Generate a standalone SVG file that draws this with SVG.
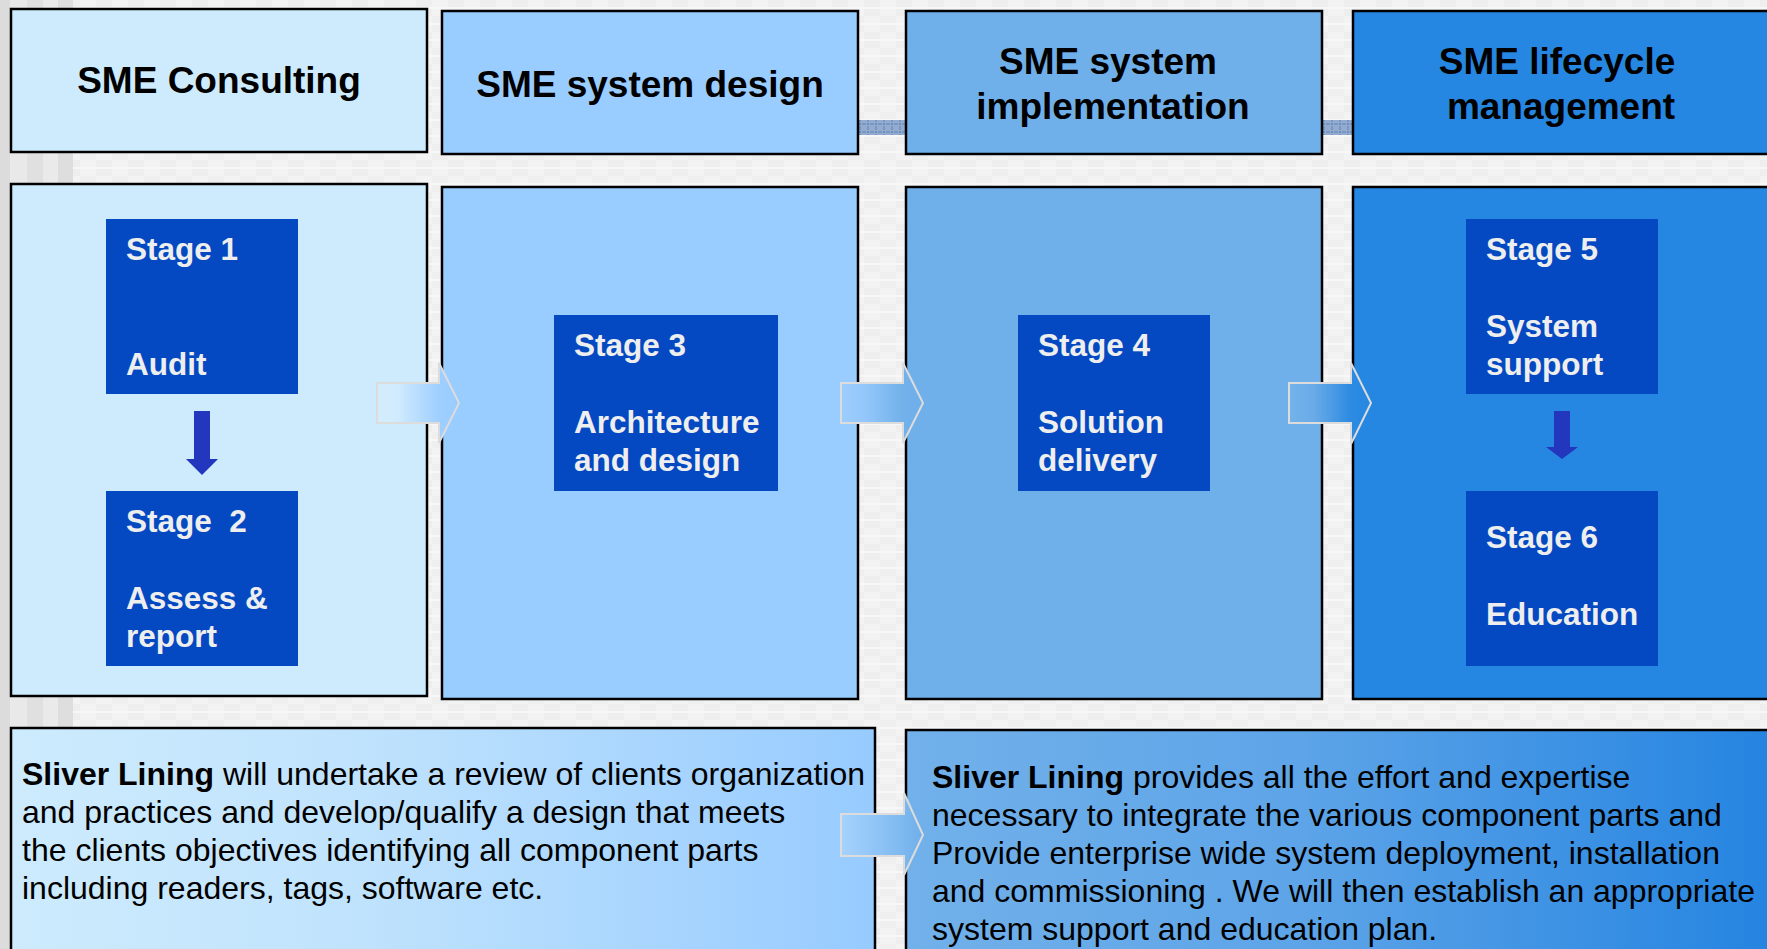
<svg xmlns="http://www.w3.org/2000/svg" width="1767" height="949" viewBox="0 0 1767 949">
<defs>
<pattern id="bg" x="0" y="0" width="32" height="32" patternUnits="userSpaceOnUse">
<rect width="32" height="32" fill="#f3f3f3"/>
<rect x="0" y="0" width="16" height="16" fill="#eeeeee"/>
<rect x="16" y="16" width="16" height="16" fill="#efefef"/>
<line x1="0" y1="8" x2="32" y2="8" stroke="#fafafa" stroke-width="1.5"/>
<line x1="0" y1="24" x2="32" y2="24" stroke="#fafafa" stroke-width="1.5"/>
</pattern>
<pattern id="chk" x="0" y="0" width="8" height="8" patternUnits="userSpaceOnUse">
<rect width="8" height="8" fill="#93abcf"/>
<line x1="0" y1="4" x2="8" y2="4" stroke="#5f83b8" stroke-width="1" stroke-dasharray="2 1"/>
<line x1="4" y1="0" x2="4" y2="8" stroke="#5f83b8" stroke-width="1" stroke-dasharray="2 1"/>
</pattern>
<linearGradient id="gA" gradientUnits="userSpaceOnUse" x1="377" y1="0" x2="459" y2="0">
<stop offset="0" stop-color="#d4edfd"/><stop offset="0.25" stop-color="#d0ebfd"/><stop offset="0.75" stop-color="#9fcfff"/><stop offset="1" stop-color="#99ccff"/>
</linearGradient>
<linearGradient id="gB" gradientUnits="userSpaceOnUse" x1="841" y1="0" x2="923" y2="0">
<stop offset="0" stop-color="#9dcdfe"/><stop offset="0.3" stop-color="#93c7fb"/><stop offset="0.75" stop-color="#72b1ea"/><stop offset="1" stop-color="#6fafea"/>
</linearGradient>
<linearGradient id="gC" gradientUnits="userSpaceOnUse" x1="1289" y1="0" x2="1371" y2="0">
<stop offset="0" stop-color="#74b2ea"/><stop offset="0.3" stop-color="#6aabe8"/><stop offset="0.75" stop-color="#2d8be2"/><stop offset="1" stop-color="#2587e2"/>
</linearGradient>
<linearGradient id="gD" gradientUnits="userSpaceOnUse" x1="841" y1="0" x2="923" y2="0">
<stop offset="0" stop-color="#a6d2fd"/><stop offset="0.5" stop-color="#8cc2f5"/><stop offset="1" stop-color="#6fafea"/>
</linearGradient>
<linearGradient id="gL" x1="0" y1="0" x2="1" y2="0">
<stop offset="0" stop-color="#cdebfd"/><stop offset="0.4" stop-color="#c0e3fd"/><stop offset="1" stop-color="#97cbff"/>
</linearGradient>
<linearGradient id="gR" x1="0" y1="0" x2="1" y2="0">
<stop offset="0" stop-color="#72b1ea"/><stop offset="0.45" stop-color="#5da4e8"/><stop offset="1" stop-color="#2383e0"/>
</linearGradient>
<style>
.box{stroke:#000;stroke-width:2.5}
.stage{fill:#0449c2}
.hd{font-family:"Liberation Sans",Arial,sans-serif;font-weight:bold;font-size:37px;fill:#000;text-anchor:middle}
.st{font-family:"Liberation Sans",Arial,sans-serif;font-weight:bold;font-size:31.5px;fill:#eeeeee}
.bt{font-family:"Liberation Sans",Arial,sans-serif;font-size:32px;fill:#000}
.b{font-weight:bold}
.blk{stroke:#dcdcdc;stroke-width:2}
.dn{fill:#2236be}
</style>
</defs>
<rect width="1767" height="949" fill="url(#bg)"/>
<rect x="0" y="0" width="10" height="949" fill="#dcdcdc"/>
<rect x="10" y="0" width="17" height="949" fill="#e9e9e9"/>
<rect x="27" y="0" width="16" height="949" fill="#e0e0e0"/>
<rect x="43" y="0" width="15" height="949" fill="#eaeaea"/>
<rect x="58" y="0" width="15" height="949" fill="#dedede"/>
<rect x="858" y="120" width="48" height="15" fill="url(#chk)"/>
<rect x="1322" y="120" width="31" height="15" fill="url(#chk)"/>

<g id="header-consulting">
<rect class="box" x="11" y="9" width="416" height="143" fill="#cdebfd"/>
<text class="hd" x="219" y="93">SME Consulting</text>
</g>
<g id="header-design">
<rect class="box" x="442" y="11" width="416" height="143" fill="#99ccff"/>
<text class="hd" x="650" y="97">SME system design</text>
</g>
<g id="header-implementation">
<rect class="box" x="906" y="11" width="416" height="143" fill="#70b0ea"/>
<text class="hd" x="1108" y="74">SME system</text>
<text class="hd" x="1113" y="119">implementation</text>
</g>
<g id="header-lifecycle">
<rect class="box" x="1353" y="11" width="430" height="143" fill="#2587e2"/>
<text class="hd" x="1557" y="74">SME lifecycle</text>
<text class="hd" x="1561" y="119">management</text>
</g>

<g id="col-consulting">
<rect class="box" x="11" y="184" width="416" height="512" fill="#cdebfd"/>
</g>
<g id="col-design">
<rect class="box" x="442" y="187" width="416" height="512" fill="#99ccff"/>
</g>
<g id="col-implementation">
<rect class="box" x="906" y="187" width="416" height="512" fill="#70b0ea"/>
</g>
<g id="col-lifecycle">
<rect class="box" x="1353" y="187" width="430" height="512" fill="#2587e2"/>
</g>

<g id="stage1">
<rect class="stage" x="106" y="219" width="192" height="175"/>
<text class="st" x="126" y="260">Stage 1</text>
<text class="st" x="126" y="375">Audit</text>
</g>
<g id="stage2">
<rect class="stage" x="106" y="491" width="192" height="175"/>
<text class="st" x="126" y="532" xml:space="preserve">Stage  2</text>
<text class="st" x="126" y="609">Assess &amp;</text>
<text class="st" x="126" y="647">report</text>
</g>
<g id="stage3">
<rect class="stage" x="554" y="315" width="224" height="176"/>
<text class="st" x="574" y="356">Stage 3</text>
<text class="st" x="574" y="433">Architecture</text>
<text class="st" x="574" y="471">and design</text>
</g>
<g id="stage4">
<rect class="stage" x="1018" y="315" width="192" height="176"/>
<text class="st" x="1038" y="356">Stage 4</text>
<text class="st" x="1038" y="433">Solution</text>
<text class="st" x="1038" y="471">delivery</text>
</g>
<g id="stage5">
<rect class="stage" x="1466" y="219" width="192" height="175"/>
<text class="st" x="1486" y="260">Stage 5</text>
<text class="st" x="1486" y="337">System</text>
<text class="st" x="1486" y="375">support</text>
</g>
<g id="stage6">
<rect class="stage" x="1466" y="491" width="192" height="175"/>
<text class="st" x="1486" y="548">Stage 6</text>
<text class="st" x="1486" y="625">Education</text>
</g>

<g id="text-left">
<rect class="box" x="11" y="728" width="864" height="240" fill="url(#gL)"/>
<text class="bt" x="22" y="785">
<tspan class="b">Sliver Lining</tspan> will undertake a review of clients organization</text>
<text class="bt" x="22" y="823">and practices and develop/qualify a design that meets</text>
<text class="bt" x="22" y="861">the clients objectives identifying all component parts</text>
<text class="bt" x="22" y="899">including readers, tags, software etc.</text>
</g>
<g id="text-right">
<rect class="box" x="906" y="730" width="880" height="240" fill="url(#gR)"/>
<text class="bt" x="932" y="788"><tspan class="b">Sliver Lining</tspan> provides all the effort and expertise</text>
<text class="bt" x="932" y="826">necessary to integrate the various component parts and</text>
<text class="bt" x="932" y="864">Provide enterprise wide system deployment, installation</text>
<text class="bt" x="932" y="902">and commissioning . We will then establish an appropriate</text>
<text class="bt" x="932" y="940">system support and education plan.</text>
</g>

<g id="connectors">
<polygon class="dn" points="194,411 210,411 210,459 218,459 202,475 186,459 194,459"/>
<polygon class="dn" points="1554,411 1570,411 1570,447 1578,447 1562,459 1546,447 1554,447"/>
<polygon class="blk" fill="url(#gA)" points="377,383 439,383 439,363 459,403 439,443 439,423 377,423"/>
<polygon class="blk" fill="url(#gB)" points="841,383 903,383 903,363 923,403 903,443 903,423 841,423"/>
<polygon class="blk" fill="url(#gC)" points="1289,383 1351,383 1351,363 1371,403 1351,444 1351,423 1289,423"/>
<polygon class="blk" fill="url(#gD)" points="841,814 904,814 904,793 923,835 904,875 904,856 841,856"/>
</g>
</svg>
